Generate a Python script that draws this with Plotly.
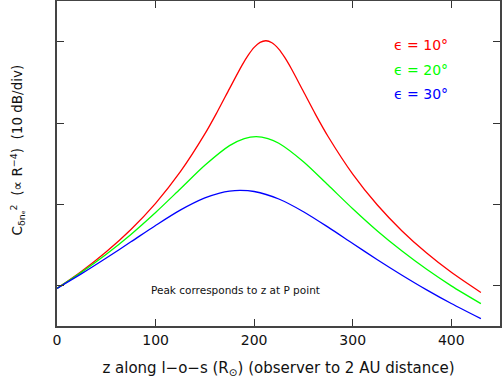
import plotly.graph_objects as go

# Data (dB, arbitrary offset; 10 dB per division)
z_red = [0, 25, 50, 75, 100, 125, 150, 162.5, 175, 187.5, 194, 200, 206, 212, 218, 225, 231, 237.5, 250, 262.5, 275, 300, 325, 350, 375, 400, 430]
v_red = [9.70, 11.81, 14.20, 16.94, 20.15, 24.00, 28.67, 31.37, 34.24, 37.07, 38.35, 39.30, 39.92, 40.12, 39.87, 39.09, 38.07, 36.74, 33.88, 31.02, 28.36, 23.74, 19.94, 16.76, 14.04, 11.67, 9.19]

z_green = [0, 25, 50, 75, 100, 125, 150, 175, 190, 202, 214, 225, 250, 275, 300, 325, 350, 375, 400, 430]
v_green = [9.70, 11.70, 13.90, 16.33, 19.02, 21.91, 24.82, 27.24, 28.11, 28.34, 28.11, 27.53, 25.26, 22.39, 19.48, 16.75, 14.28, 12.04, 10.01, 7.83]

z_blue = [0, 25, 50, 75, 100, 125, 150, 165, 175, 186, 200, 225, 250, 275, 300, 325, 350, 375, 400, 430]
v_blue = [9.70, 11.51, 13.43, 15.42, 17.43, 19.31, 20.81, 21.41, 21.65, 21.74, 21.60, 20.68, 19.12, 17.22, 15.21, 13.22, 11.32, 9.52, 7.84, 5.98]

x_ticks = [0, 100, 200, 300, 400]
y_ticks = [10, 20, 30, 40]
legend_labels = ["ϵ = 10°", "ϵ = 20°", "ϵ = 30°"]
colors = ["#ff0000", "#00ff00", "#0000ff"]

FONT = "DejaVu Sans"

fig = go.Figure()
for zz, vv, c in [(z_red, v_red, colors[0]), (z_green, v_green, colors[1]), (z_blue, v_blue, colors[2])]:
    fig.add_trace(go.Scatter(x=zz, y=vv, mode="lines", line=dict(color=c, width=1.3, shape="spline", smoothing=0.8),
                             showlegend=False, hoverinfo="skip"))

fig.update_layout(
    width=502, height=382,
    margin=dict(l=57, r=2, t=1, b=56),
    paper_bgcolor="white", plot_bgcolor="white",
    font=dict(family=FONT, color="#111111", size=14),
    showlegend=False,
)
fig.update_xaxes(range=[0, 449.4], tickvals=x_ticks, ticktext=[str(t) for t in x_ticks],
                 ticks="inside", ticklen=7, tickwidth=1.3, tickcolor="#333333",
                 showline=True, linecolor="#444444", linewidth=1.5, mirror="ticks",
                 showgrid=False, zeroline=False, tickfont=dict(size=14, family=FONT), automargin=False,
                 title=dict(text="z along l−o−s (R<sub>⊙</sub>) (observer to 2 AU distance)",
                            font=dict(size=15, family=FONT), standoff=16))
fig.update_yaxes(range=[5.08, 45.0], tickvals=y_ticks, showticklabels=False, automargin=False,
                 ticks="inside", ticklen=7, tickwidth=1.3, tickcolor="#333333",
                 showline=True, linecolor="#444444", linewidth=1.5, mirror="ticks",
                 showgrid=False, zeroline=False)

fig.add_annotation(xref="paper", yref="paper", x=(17 - 57) / 443.5, y=0.54, textangle=-90,
                   text="C<sub>δnₑ</sub><sup>2</sup>  (∝ R<sup>−4</sup>)  (10 dB/div)",
                   showarrow=False, font=dict(size=13.5, family=FONT), xanchor="center", yanchor="middle")

leg_y = [45, 70, 94]
for lab, c, py in zip(legend_labels, colors, leg_y):
    fig.add_annotation(xref="paper", yref="paper", x=(392 - 57) / 443.5, y=(325.7 - py) / 324.7,
                       text=lab, showarrow=False, xanchor="left", yanchor="middle",
                       font=dict(size=14, color=c, family=FONT))

fig.add_annotation(xref="paper", yref="paper", x=(236 - 57) / 443.5, y=(325.7 - 290) / 324.7,
                   text="Peak corresponds to z at P point", showarrow=False,
                   xanchor="center", yanchor="middle", font=dict(size=10.5, family=FONT))

fig.write_html("out.html", config={"displayModeBar": False},
               post_script="document.body.style.margin='0';document.body.style.padding='0';document.body.style.overflow='hidden';")
